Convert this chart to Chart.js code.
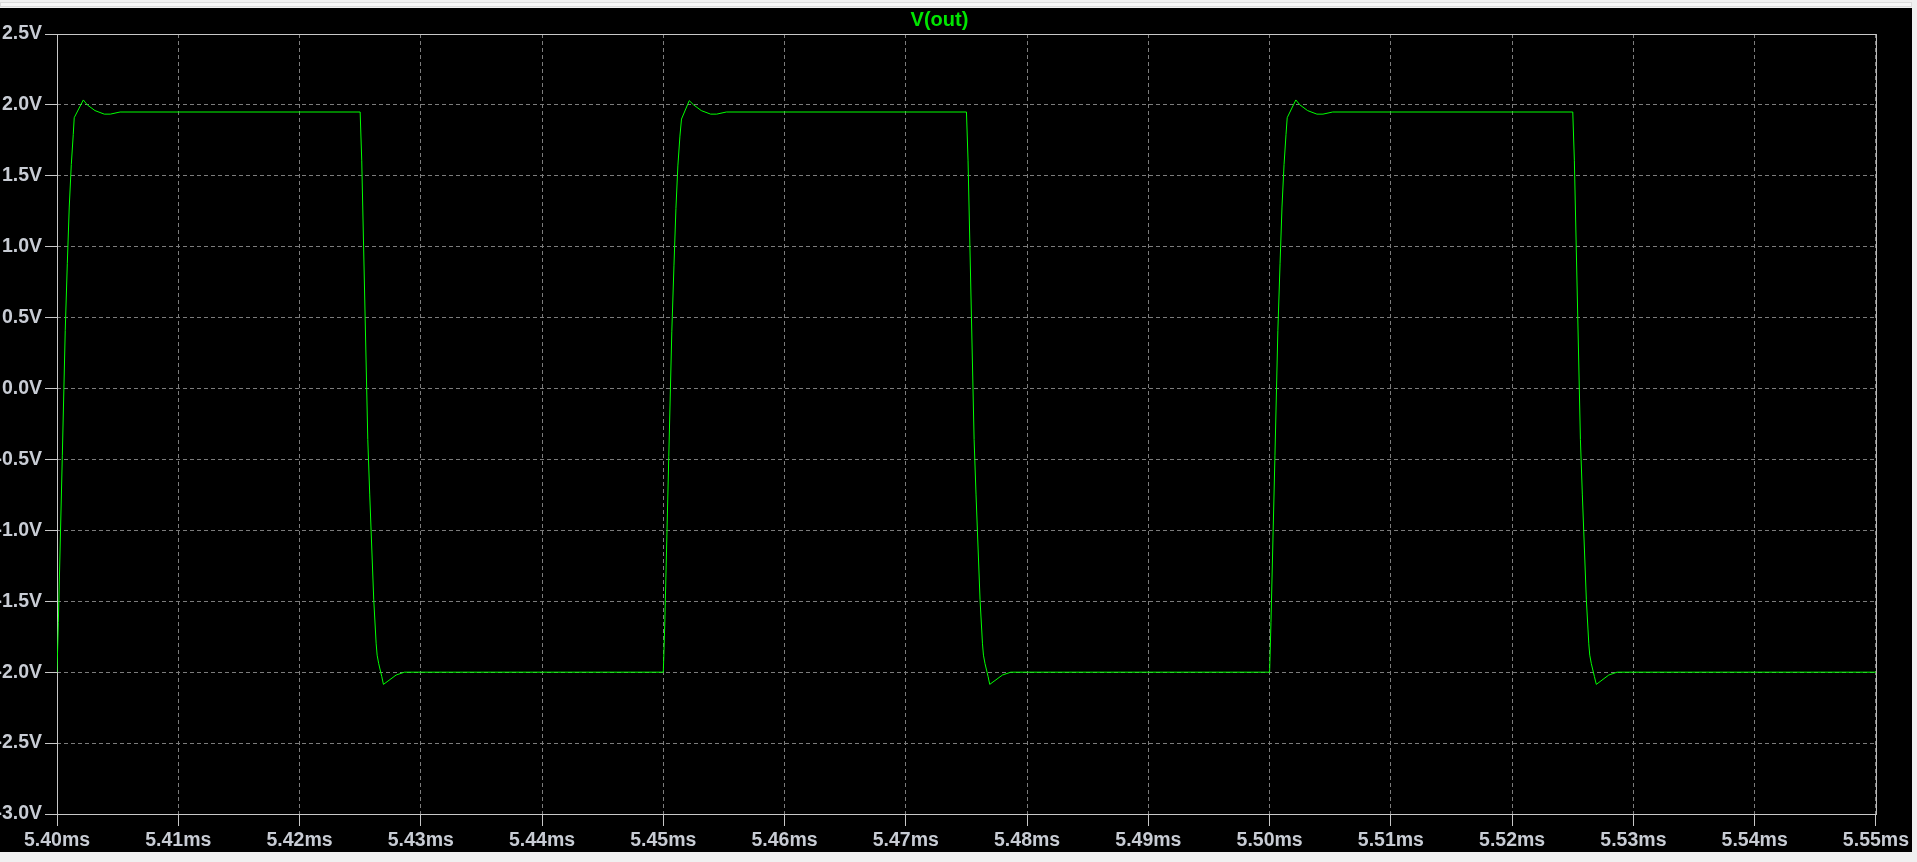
<!DOCTYPE html>
<html>
<head>
<meta charset="utf-8">
<script src="https://cdn.jsdelivr.net/npm/chart.js@4.4.1/dist/chart.umd.min.js"></script>
<style>
  html, body { margin: 0; padding: 0; background: #f0f0f0; overflow: hidden; }
  body { width: 1917px; height: 862px; position: relative; }
  .topbar { position: absolute; left: 0; top: 2px; width: 1910px; height: 3px; border: 1px solid #dcdcdc; background: #f7f7f7; }
  #wrap { position: absolute; left: 0; top: 8px; width: 1912px; height: 844px; background: #000; }
</style>
</head>
<body>
<div class="topbar"></div>
<div id="wrap"><canvas id="chart"></canvas></div>
<script>
const FONT = '"Liberation Sans", Arial, sans-serif'

const xTicks = [5.40, 5.41, 5.42, 5.43, 5.44, 5.45, 5.46, 5.47, 5.48, 5.49, 5.50, 5.51, 5.52, 5.53, 5.54, 5.55]
const yTicks = [2.5, 2.0, 1.5, 1.0, 0.5, 0.0, -0.5, -1.0, -1.5, -2.0, -2.5, -3.0]

// V(out) sampled off the plot, time in ms
const timeMs = [
  5.40000, 5.40011, 5.40044, 5.40068, 5.40085, 5.40101, 5.40118, 5.40134, 5.40142, 5.40217,
  5.40250, 5.40313, 5.40390, 5.40440, 5.40520, 5.42500, 5.42513, 5.42563, 5.42579, 5.42612,
  5.42632, 5.42640, 5.42653, 5.42678, 5.42692, 5.42797, 5.42865,
  5.45000, 5.45012, 5.45045, 5.45070, 5.45088, 5.45104, 5.45120, 5.45137, 5.45150, 5.45214,
  5.45250, 5.45313, 5.45390, 5.45440, 5.45520, 5.47500, 5.47513, 5.47563, 5.47579, 5.47612,
  5.47632, 5.47640, 5.47653, 5.47678, 5.47692, 5.47797, 5.47865,
  5.50000, 5.50011, 5.50044, 5.50068, 5.50086, 5.50102, 5.50119, 5.50135, 5.50145, 5.50216,
  5.50250, 5.50313, 5.50390, 5.50440, 5.50520, 5.52500, 5.52513, 5.52563, 5.52579, 5.52612,
  5.52632, 5.52640, 5.52653, 5.52678, 5.52694, 5.52797, 5.52865, 5.55000
]
const voutV = [
  -2.00, -1.65, -0.47, 0.41, 0.88, 1.28, 1.58, 1.79, 1.91, 2.035,
  2.00, 1.96, 1.935, 1.935, 1.95, 1.95, 1.61, -0.36, -0.75, -1.49,
  -1.80, -1.88, -1.94, -2.03, -2.086, -2.02, -2.00,
  -2.00, -1.66, -0.48, 0.40, 0.87, 1.27, 1.57, 1.78, 1.90, 2.03,
  2.00, 1.96, 1.935, 1.935, 1.95, 1.95, 1.61, -0.36, -0.75, -1.49,
  -1.80, -1.88, -1.94, -2.03, -2.086, -2.02, -2.00,
  -2.00, -1.65, -0.47, 0.41, 0.88, 1.28, 1.58, 1.79, 1.91, 2.035,
  2.00, 1.96, 1.935, 1.935, 1.95, 1.95, 1.61, -0.36, -0.75, -1.49,
  -1.80, -1.88, -1.94, -2.03, -2.086, -2.02, -2.00, -2.00
]

const blackBackground = {
  id: 'blackBackground',
  beforeDraw(chart) {
    const { ctx, width, height } = chart
    ctx.save()
    ctx.fillStyle = '#000'
    ctx.fillRect(0, 0, width, height)
    ctx.restore()
  }
}

const plotFrame = {
  id: 'plotFrame',
  beforeDatasetsDraw(chart) {
    const { ctx, chartArea: { left, top, right, bottom } } = chart
    ctx.save()
    ctx.setLineDash([])
    ctx.strokeStyle = '#c8c8c8'
    ctx.lineWidth = 1
    ctx.strokeRect(left + 0.5, top + 0.5, right - left, bottom - top)
    ctx.restore()
  }
}

function getAxis(ticks, fmt, extra) {
  return {
    type: 'linear',
    min: Math.min(...ticks),
    max: Math.max(...ticks),
    afterBuildTicks: (scale) => { scale.ticks = ticks.map(value => ({ value })) },
    grid: {
      color: '#7c7c7c',
      lineWidth: 1,
      tickLength: 12,
      tickColor: '#c8c8c8',
      tickWidth: 1,
      tickBorderDash: []
    },
    border: { display: false, dash: [4, 3] },
    ticks: {
      color: '#c8ccd4',
      font: { family: FONT, size: 19.5, weight: 'bold' },
      autoSkip: false,
      maxRotation: 0,
      callback: fmt
    },
    ...extra
  }
}

const data = timeMs.map((t, i) => ({ x: t, y: voutV[i] }))

new Chart(document.getElementById('chart').getContext('2d'), {
  type: 'line',
  data: {
    datasets: [{
      label: 'V(out)',
      data,
      borderColor: '#00ff00',
      borderWidth: 1,
      pointRadius: 0,
      tension: 0,
      fill: false
    }]
  },
  options: {
    responsive: true,
    maintainAspectRatio: false,
    animation: false,
    layout: { padding: { left: 0, right: 33, top: 0, bottom: 0 } },
    plugins: {
      legend: { display: false },
      tooltip: { enabled: false },
      title: {
        display: true,
        text: 'V(out)',
        color: '#00e600',
        font: { family: FONT, size: 20, weight: 'bold', lineHeight: 1.2 },
        padding: { top: 0, bottom: 2 }
      }
    },
    scales: {
      x: getAxis(xTicks, (v) => v.toFixed(2) + 'ms', {
        afterFit: (scale) => { scale.height = 38 }
      }),
      y: getAxis(yTicks, (v) => v.toFixed(1) + 'V', {
        afterFit: (scale) => { scale.width = 57 }
      })
    }
  },
  plugins: [blackBackground, plotFrame]
})
</script>
</body>
</html>
